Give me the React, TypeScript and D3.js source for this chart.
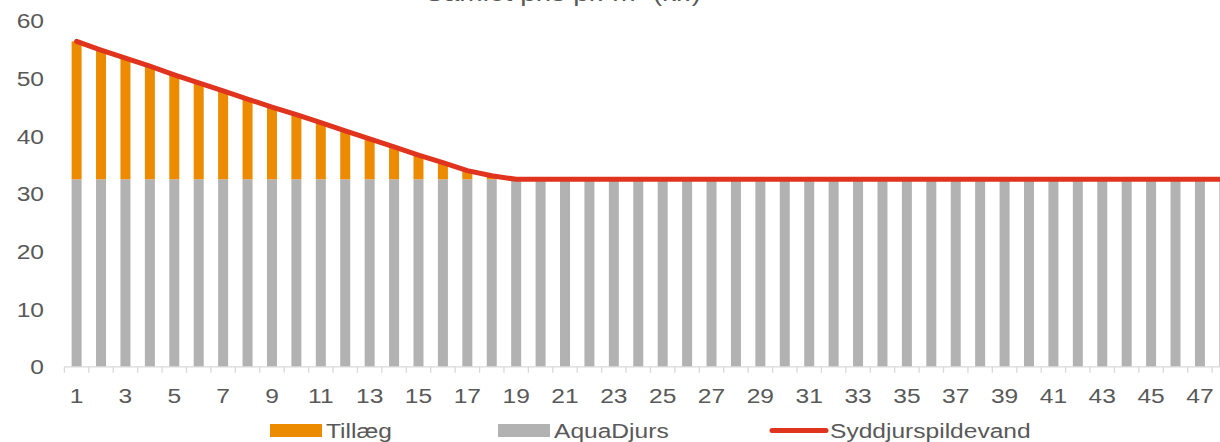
import React from "react";
import * as d3 from "d3";

const categories: number[] = Array.from({ length: 48 }, (_, i) => i + 1);
const aquaDjurs: number[] = [
  32.5, 32.5, 32.5, 32.5, 32.5, 32.5, 32.5, 32.5, 32.5, 32.5, 32.5, 32.5,
  32.5, 32.5, 32.5, 32.5, 32.5, 32.5, 32.5, 32.5, 32.5, 32.5, 32.5, 32.5,
  32.5, 32.5, 32.5, 32.5, 32.5, 32.5, 32.5, 32.5, 32.5, 32.5, 32.5, 32.5,
  32.5, 32.5, 32.5, 32.5, 32.5, 32.5, 32.5, 32.5, 32.5, 32.5, 32.5, 32.5,
];
const tillaeg: number[] = [
  23.9, 22.4, 21.0, 19.6, 18.1, 16.7, 15.3, 13.9, 12.5, 11.2, 9.8, 8.4,
  7.0, 5.6, 4.2, 2.9, 1.5, 0.4, 0, 0, 0, 0, 0, 0,
  0, 0, 0, 0, 0, 0, 0, 0, 0, 0, 0, 0,
  0, 0, 0, 0, 0, 0, 0, 0, 0, 0, 0, 0,
];
const syddjurs: number[] = [
  56.4, 54.9, 53.5, 52.1, 50.6, 49.2, 47.8, 46.4, 45.0, 43.7, 42.3, 40.9,
  39.5, 38.1, 36.7, 35.4, 34.0, 33.1, 32.5, 32.5, 32.5, 32.5, 32.5, 32.5,
  32.5, 32.5, 32.5, 32.5, 32.5, 32.5, 32.5, 32.5, 32.5, 32.5, 32.5, 32.5,
  32.5, 32.5, 32.5, 32.5, 32.5, 32.5, 32.5, 32.5, 32.5, 32.5, 32.5, 32.5,
];
const yTicks: number[] = [0, 10, 20, 30, 40, 50, 60];
const title = "Samlet pris pr. m³ (kr.)";
const legendLabels = ["Tillæg", "AquaDjurs", "Syddjurspildevand"];

const W = 1220;
const H = 442;
const FONT = "'Liberation Sans', Arial, sans-serif";
const TXT = "#595959";
const ORANGE = "#ED8B00";
const GRAY = "#B2B2B2";
const RED = "#E0341E";
const SX = 1.17;

export default function App() {
  const x = d3
    .scaleBand<number>()
    .domain(categories)
    .range([64.4, 64.4 + 48 * 24.42])
    .paddingInner(0)
    .paddingOuter(0);
  const y = d3.scaleLinear().domain([0, 60]).range([366.8, 20.6]);
  const barW = 10;
  const cx = (c: number) => (x(c) as number) + x.bandwidth() / 2;

  const line = d3
    .line<number>()
    .x((_, i) => cx(categories[i]))
    .y((d) => y(d))
    .curve(d3.curveLinear);

  const axisY = y(0);

  return (
    <svg
      width={W}
      height={H}
      style={{ position: "absolute", left: 0, top: 0, background: "#fff" }}
      fontFamily={FONT}
    >
      <text
        transform={`translate(563,1) scale(${SX},1)`}
        textAnchor="middle"
        fontSize={24}
        fill={TXT}
      >
        {title}
      </text>

      {/* bars */}
      {categories.map((c, i) => (
        <g key={c}>
          <rect
            x={cx(c) - barW / 2}
            width={barW}
            y={y(aquaDjurs[i])}
            height={y(0) - y(aquaDjurs[i])}
            fill={GRAY}
          />
          {tillaeg[i] > 0 && (
            <rect
              x={cx(c) - barW / 2}
              width={barW}
              y={y(aquaDjurs[i] + tillaeg[i])}
              height={y(aquaDjurs[i]) - y(aquaDjurs[i] + tillaeg[i])}
              fill={ORANGE}
            />
          )}
        </g>
      ))}

      {/* x axis */}
      <line x1={64.4} x2={W} y1={axisY} y2={axisY} stroke="#D9D9D9" strokeWidth={1.3} />
      {categories.map((c) => (
        <line
          key={"t" + c}
          x1={x(c) as number}
          x2={x(c) as number}
          y1={axisY}
          y2={axisY + 6}
          stroke="#D9D9D9"
          strokeWidth={1.3}
        />
      ))}
      {categories
        .filter((c) => c % 2 === 1)
        .map((c) => (
          <text
            key={"xl" + c}
            transform={`translate(${cx(c)},${axisY + 36}) scale(${SX},1)`}
            textAnchor="middle"
            fontSize={21}
            fill={TXT}
          >
            {c}
          </text>
        ))}

      {/* y labels */}
      {yTicks.map((t) => (
        <text
          key={"yl" + t}
          transform={`translate(44,${y(t) + 7.5}) scale(${SX},1)`}
          textAnchor="end"
          fontSize={21}
          fill={TXT}
        >
          {t}
        </text>
      ))}

      {/* line */}
      <path
        d={line(syddjurs) || ""}
        fill="none"
        stroke={RED}
        strokeWidth={5}
        strokeLinejoin="round"
        strokeLinecap="round"
      />

      {/* legend */}
      <rect x={270} y={424} width={52} height={13} fill={ORANGE} />
      <text transform={`translate(326,438) scale(${SX},1)`} fontSize={21} fill={TXT}>
        {legendLabels[0]}
      </text>
      <rect x={498} y={424} width={52} height={13} fill={GRAY} />
      <text transform={`translate(554,438) scale(${SX},1)`} fontSize={21} fill={TXT}>
        {legendLabels[1]}
      </text>
      <line x1={772} x2={826} y1={430.5} y2={430.5} stroke={RED} strokeWidth={5} strokeLinecap="round" />
      <text transform={`translate(830,438) scale(${SX},1)`} fontSize={21} fill={TXT}>
        {legendLabels[2]}
      </text>
    </svg>
  );
}
